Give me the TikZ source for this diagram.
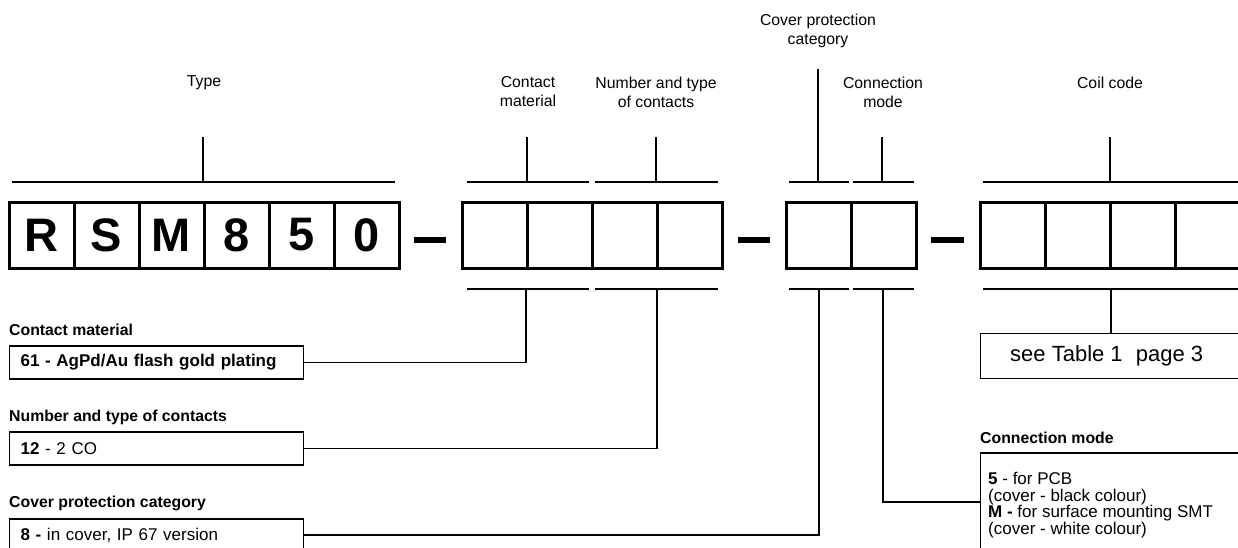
\documentclass[tikz,border=0pt]{standalone}
\usepackage{fontspec}
\setmainfont{Liberation Sans}
\begin{document}
\begin{tikzpicture}[x=1pt,y=-1pt,
  cell/.style={draw,line width=3pt,minimum width=65pt,minimum height=66pt,inner sep=0pt,font=\fontsize{47}{47}\selectfont\bfseries},
  sep/.style={line width=6.5pt},
  brk/.style={line width=2.6pt},
  tick/.style={line width=1.6pt},
  conn/.style={line width=1.1pt},
  lbl/.style={align=center,font=\fontsize{15.8}{19}\selectfont,inner sep=0pt},
  ttl/.style={anchor=west,font=\fontsize{15.8}{19}\selectfont\bfseries,inner sep=0pt},
  tbox/.style={draw,line width=1.1pt,anchor=west,align=left,inner xsep=11pt,inner ysep=0pt,text width=272pt,minimum height=33pt,font=\fontsize{17}{17}\selectfont}
]
\useasboundingbox (0,0) rectangle (1238,547);
\clip (0,0) rectangle (1238,547);
% code cells
\node[cell] (c1) at (41.5,235) {R};
\node[cell] (c2) at (106.5,235) {S};
\node[cell] (c3) at (171.5,235) {M};
\node[cell] (c4) at (236.5,235) {8};
\node[cell] (c5) at (301.5,235) {5};
\node[cell] (c6) at (366.5,235) {0};
\node[cell] (d1) at (494.5,235) {};
\node[cell] (d2) at (559.5,235) {};
\node[cell] (d3) at (624.5,235) {};
\node[cell] (d4) at (689.5,235) {};
\node[cell] (e1) at (818.5,235) {};
\node[cell] (e2) at (883.5,235) {};
\node[cell] (f1) at (1012.5,235) {};
\node[cell] (f2) at (1077.5,235) {};
\node[cell] (f3) at (1142.5,235) {};
\node[cell] (f4) at (1207.5,235) {};
% dashes
\coordinate (s1a) at (414,240); \coordinate (s1b) at (446,240);
\coordinate (s2a) at (738,240); \coordinate (s2b) at (770,240);
\coordinate (s3a) at (931,240); \coordinate (s3b) at (964,240);
\draw[sep] (s1a) -- (s1b);
\draw[sep] (s2a) -- (s2b);
\draw[sep] (s3a) -- (s3b);
% top brackets
\coordinate (tAl) at (12,182); \coordinate (tAr) at (395,182);
\coordinate (tBl) at (467,182); \coordinate (tBr) at (589,182);
\coordinate (tCl) at (595,182); \coordinate (tCr) at (718,182);
\coordinate (tDl) at (789,182); \coordinate (tDr) at (849,182);
\coordinate (tEl) at (853,182); \coordinate (tEr) at (914,182);
\coordinate (tFl) at (983,182); \coordinate (tFr) at (1238,182);
\foreach \k in {A,B,C,D,E,F} {\draw[brk] (t\k l) -- (t\k r);}
\coordinate (tA) at (203,182); \coordinate (tAu) at (203,137);
\coordinate (tB) at (527,182); \coordinate (tBu) at (527,137);
\coordinate (tC) at (656,182); \coordinate (tCu) at (656,137);
\coordinate (tD) at (818,182); \coordinate (tDu) at (818,69);
\coordinate (tE) at (882,182); \coordinate (tEu) at (882,137);
\coordinate (tF) at (1110,182); \coordinate (tFu) at (1110,137);
\foreach \k in {A,B,C,D,E,F} {\draw[tick] (t\k) -- (t\k u);}
% top labels
\node[lbl] (lA) at (204,83) {Type};
\node[lbl] (lB) at (528,92) {Contact\\material};
\node[lbl] (lC) at (656,92) {Number and type\\of contacts};
\node[lbl] (lD) at (818,31) {Cover protection\\category};
\node[lbl] (lE) at (883,92) {Connection\\mode};
\node[lbl] (lF) at (1110,83) {Coil code};
% bottom brackets
\coordinate (bBl) at (467,289); \coordinate (bBr) at (589,289);
\coordinate (bCl) at (595,289); \coordinate (bCr) at (718,289);
\coordinate (bDl) at (789,289); \coordinate (bDr) at (849,289);
\coordinate (bEl) at (853,289); \coordinate (bEr) at (914,289);
\coordinate (bFl) at (983,289); \coordinate (bFr) at (1238,289);
\foreach \k in {B,C,D,E,F} {\draw[brk] (b\k l) -- (b\k r);}
\coordinate (bB) at (526,289);
\coordinate (bC) at (657,289);
\coordinate (bD) at (819,289);
\coordinate (bE) at (883,289);
\coordinate (bF) at (1111,289);
% left descriptions
\node[ttl] (hB) at (9,330) {Contact material};
\node[tbox,font=\fontsize{17}{17}\selectfont\bfseries] (xB) at (9,362.5) {61 - AgPd/Au flash gold plating};
\node[ttl] (hC) at (9,417) {Number and type of contacts};
\node[tbox] (xC) at (9,448.5) {\textbf{12} - 2 CO};
\node[ttl] (hD) at (9,503) {Cover protection category};
\node[tbox,minimum height=32pt] (xD) at (9,535) {\textbf{8 -} in cover, IP 67 version};
% right descriptions
\node[draw,line width=1.1pt,anchor=north west,inner sep=0pt,minimum width=300pt,minimum height=45pt] (xF) at (980,333) {};
\node[anchor=west,inner sep=0pt,font=\fontsize{22}{22}\selectfont] (xFt) at (1010,356) {see Table 1\hspace{0.6em}page 3};
\node[ttl] (hE) at (980,438) {Connection mode};
\node[draw,line width=1.1pt,anchor=west,inner sep=0pt,minimum width=300pt,minimum height=98pt] (xE) at (980,502) {};
\node[anchor=west,align=left,inner sep=0pt,font=\fontsize{17}{16.7}\selectfont] (xEt) at (988,505)
 {\textbf{5} - for PCB\\(cover - black colour)\\\textbf{M -} for surface mounting SMT\\(cover - white colour)};
% connectors
\draw[conn] (bB) |- (xB.east);
\draw[conn] (bC) |- (xC.east);
\draw[conn] (bD) |- (xD.east);
\draw[conn] (bE) |- (xE.west);
\draw[conn] (bF) -- (bF |- xF.north);
\end{tikzpicture}
\end{document}
